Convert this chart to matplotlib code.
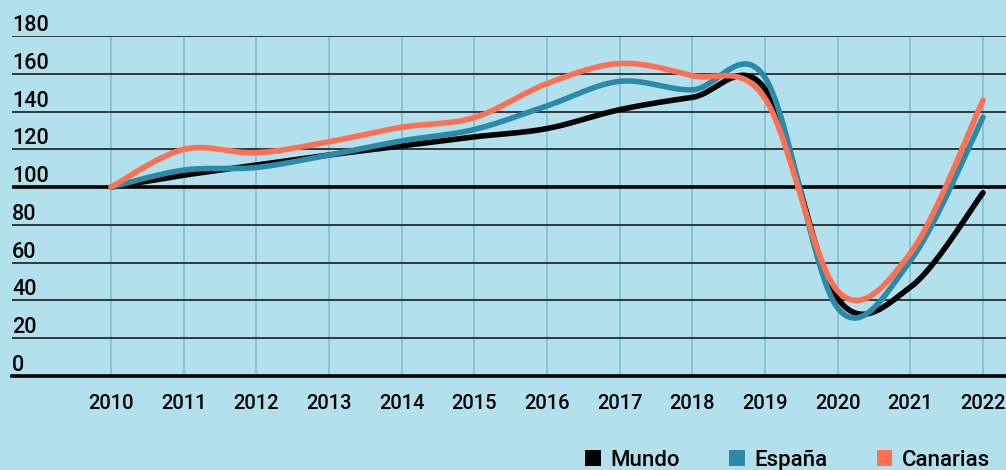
import numpy as np
import matplotlib
matplotlib.use('Agg')
import matplotlib.pyplot as plt
from matplotlib.patches import Patch

# data (index, 2010 = 100)
years = [2010, 2011, 2012, 2013, 2014, 2015, 2016, 2017, 2018, 2019, 2020, 2021, 2022]
mundo = [100, 106.3, 111.6, 117, 121.8, 126.6, 131, 141, 147.5, 152, 41, 47, 97]
espana = [100, 109, 110.4, 117, 124.5, 130.5, 143, 156, 151.5, 158, 36, 61, 137]
canarias = [100, 120, 118.2, 124, 131.7, 136.8, 154.8, 165.4, 159, 147, 45, 65, 146]

labels = ['Mundo', 'España', 'Canarias']
colors = ['#000000', '#2a8ba8', '#ff7052']
yticks = list(range(0, 181, 20))

bg = '#b2e0ec'
plt.rcParams['font.family'] = ['Roboto', 'DejaVu Sans']
plt.rcParams['font.weight'] = 'medium'

# pixels per unit, so the curve is smoothed in screen space
sx, sy = 72.67, 1.89


def catmull_rom(xs, ys, n=40):
    # uniform catmull-rom, drawn as cubic bezier pieces
    pts = np.column_stack([(np.array(xs) - xs[0]) * sx, np.array(ys) * sy])
    out = [pts[0]]
    for i in range(len(pts) - 1):
        p0 = pts[i - 1] if i > 0 else pts[i]
        p1 = pts[i]
        p2 = pts[i + 1]
        p3 = pts[i + 2] if i + 2 < len(pts) else pts[i + 1]
        c1 = p1 + (p2 - p0) / 6
        c2 = p2 - (p3 - p1) / 6
        t = np.linspace(0, 1, n)[1:, None]
        seg = ((1 - t) ** 3) * p1 + 3 * ((1 - t) ** 2) * t * c1 + 3 * (1 - t) * t ** 2 * c2 + t ** 3 * p2
        out.extend(seg)
    out = np.array(out)
    return out[:, 0] / sx + xs[0], out[:, 1] / sy


fig = plt.figure(figsize=(10.06, 4.70), dpi=100, facecolor=bg)
ax = fig.add_axes([12 / 1006, 94 / 470, 994 / 1006, 340 / 470])
ax.set_facecolor(bg)

ax.set_xlim(2010 - 99 / sx, 2022 + 23 / sx)
ax.set_ylim(0, 180)

# vertical year lines and horizontal grid
ax.set_xticks(years)
ax.set_yticks(yticks)
ax.grid(axis='x', color='#7dbccd', linewidth=1.1)
ax.grid(axis='y', color='#33393b', linewidth=1.4)
ax.set_axisbelow(True)
ax.axhline(100, color='black', linewidth=2.6, zorder=1.5)
ax.axhline(0, color='black', linewidth=2.6, zorder=1.5, clip_on=False)

for s in ax.spines.values():
    s.set_visible(False)

ax.tick_params(axis='x', length=0, pad=13, labelsize=14.5)
ax.tick_params(axis='y', length=0, pad=0, labelsize=15.5)
for lbl in ax.get_yticklabels():
    lbl.set_horizontalalignment('left')
    lbl.set_verticalalignment('bottom')

for vals, c in zip([mundo, espana, canarias], colors):
    xx, yy = catmull_rom(years, vals)
    ax.plot(xx, yy, color=c, linewidth=4, solid_capstyle='round', zorder=3)

handles = [Patch(facecolor=c, edgecolor='none') for c in colors]
fig.legend(handles, labels, loc='lower right', bbox_to_anchor=(1.0, -0.035),
           ncol=3, frameon=False, fontsize=16, handlelength=0.7, handleheight=0.7,
           handletextpad=0.45, columnspacing=2.2, borderpad=0.2)

fig.savefig('out.png', dpi=100, facecolor=bg)
